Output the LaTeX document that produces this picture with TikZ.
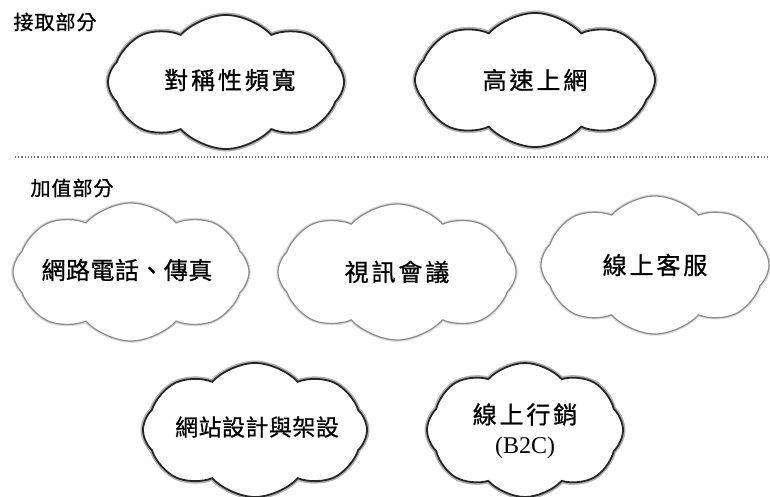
\documentclass[tikz,border=0pt]{standalone}
\usepackage{fontspec}
\setmainfont{Liberation Serif}
\newfontfamily\cjkwide[LetterSpace=12, FakeBold=0.8]{Noto Sans CJK TC}
\newfontfamily\cjknarrow[LetterSpace=2, FakeBold=0.8]{Noto Sans CJK TC}
\newfontfamily\cjklabel[LetterSpace=5, FakeBold=0.8]{Noto Sans CJK TC}
\usetikzlibrary{shapes.symbols}
\begin{document}
\begin{tikzpicture}[x=1pt,y=-1pt,
  cloudbase/.style={cloud, cloud puffs=8, cloud puff arc=95, aspect=1.75,
    fill=white, inner sep=0pt},
  darkcloud/.style={cloudbase, draw=black!85, line width=1.8pt,
    preaction={draw=black!30, line width=5pt}},
  lightcloud/.style={cloudbase, draw=black!45, line width=1.2pt,
    preaction={draw=black!15, line width=3.5pt}},
  cloudtext/.style={align=center, inner sep=0pt, font=\cjkwide\fontsize{24}{30}\selectfont},
  narrowtext/.style={align=center, inner sep=0pt, font=\cjknarrow\fontsize{23}{30}\selectfont},
  sectlabel/.style={font=\cjklabel\fontsize{20}{22}\selectfont, anchor=center, inner sep=0pt}
]
\useasboundingbox (0,0) rectangle (770,497);
\fill[white] (0,0) rectangle (770,497);

\node[sectlabel] (lab1) at (55,22) {接取部分};
\node[sectlabel] (lab2) at (72,188) {加值部分};

\node[darkcloud, minimum width=236pt, minimum height=134pt] (c1) at (226,82) {};
\node[cloudtext] (t1) at (230,80) {對稱性頻寬};
\node[darkcloud, minimum width=240pt, minimum height=134pt] (c2) at (535,80) {};
\node[cloudtext] (t2) at (c2) {高速上網};

\draw[black!55, line width=1.2pt, dotted] (15,157) -- (770,157);

\node[lightcloud, minimum width=236pt, minimum height=138pt] (c3) at (131,272) {};
\node[narrowtext, font=\cjknarrow\fontsize{24}{30}\selectfont] (t3) at (127,270) {網路電話、傳真};
\node[lightcloud, minimum width=238pt, minimum height=136pt] (c4) at (397,272) {};
\node[cloudtext] (t4) at (c4) {視訊會議};
\node[lightcloud, minimum width=228pt, minimum height=138pt] (c5) at (655,265) {};
\node[cloudtext] (t5) at (c5) {線上客服};

\node[darkcloud, minimum width=224pt, minimum height=134pt] (c6) at (255,430) {};
\node[narrowtext] (t6) at (257,427) {網站設計與架設};
\node[darkcloud, minimum width=196pt, minimum height=134pt] (c7) at (525,430) {};
\node[cloudtext] (t7) at (525,431) {線上行銷\\{\rmfamily\fontsize{24}{28}\selectfont (B2C)}};
\end{tikzpicture}
\end{document}
